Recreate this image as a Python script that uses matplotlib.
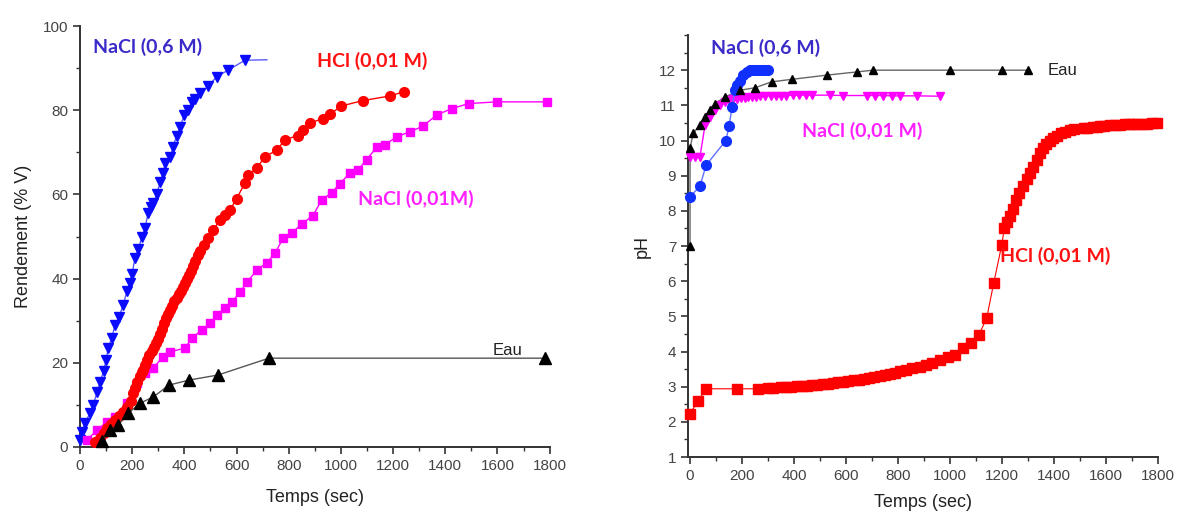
import numpy as np
import matplotlib.pyplot as plt
from matplotlib.ticker import MultipleLocator

# ---------------- left panel : Rendement (% V) vs Temps ----------------
nacl06_x = [0, 8, 19, 38, 51, 65, 77, 90, 100, 108, 122, 134, 150, 165, 180, 190, 199, 211,
            224, 237, 249, 261, 272, 281, 294, 307, 318, 326, 345, 357, 370, 383, 400, 414,
            430, 441, 460, 491, 524, 567, 632, 716]
nacl06_y = [1.6, 3.6, 5.7, 8, 10, 13, 15.4, 18, 20.6, 23.5, 26, 29, 31, 33.7, 37, 39, 41, 45,
            47, 50, 52, 55.6, 57, 58, 60, 63, 65, 67.4, 69, 71.3, 74, 76, 78.9, 80,
            82, 82.8, 84, 85.7, 88, 89.5, 91.9, 92]

hcl_x = [57, 75, 90, 105, 120, 135, 150, 165, 180, 195,
         204, 212, 220, 228, 236, 242, 250, 258, 266, 274,
         282, 290, 298, 306, 314, 322, 330, 338, 346, 354,
         362, 370, 378, 386, 394, 402, 410, 418, 426, 434,
         442, 453, 460, 475, 491, 510, 536, 555, 575, 600,
         632, 645, 678, 709, 754, 785, 835, 854, 881, 931,
         958, 1000, 1084, 1187, 1241]
hcl_y = [1.2, 2.2, 3.3, 4.4, 5.4, 6.4, 7.4, 8.4, 9.5, 11,
         12.8, 14, 15.5, 16.8, 17.8, 18.3, 19.5, 20.6, 21.8, 22.7,
         23.8, 24.6, 25.6, 26.8, 28, 29.4, 30.6, 31.6, 32.6, 33.6,
         34.6, 35.5, 36.4, 37.1, 38, 39, 39.9, 40.8, 41.8, 43,
         44.3, 45.6, 46.5, 48, 49.6, 51.5, 54, 55.2, 56.3, 59,
         62.7, 64.6, 66.3, 69, 70.5, 73, 74, 75.3, 77, 78,
         79, 81, 82.3, 83.4, 84.4]

nacl001_x = [27, 65, 103, 134, 180, 218, 249, 281, 318, 345,
             402, 429, 467, 498, 524, 555, 582, 613, 640, 678,
             716, 747, 778, 811, 850, 893, 926, 965, 996, 1034,
             1065, 1098, 1138, 1168, 1214, 1264, 1314, 1367, 1425, 1490,
             1597, 1789]
nacl001_y = [1.7, 4, 6, 7.2, 10.4, 15.2, 17.6, 18.8, 21.4, 22.6,
             23.5, 25.9, 27.8, 29.4, 31.4, 33, 34.4, 36.8, 39.2, 42,
             43.8, 46, 49.6, 50.8, 53, 55, 58.7, 60.4, 62.6, 65,
             65.8, 68.2, 71.3, 71.8, 73.7, 74.9, 76.2, 78.9, 80.4, 81.6,
             82, 82]

eau_x = [84, 115, 146, 184, 230, 281, 341, 418, 529, 724, 1782]
eau_y = [1.4, 4, 5.2, 8, 10.4, 11.9, 14.7, 15.9, 17.1, 21.1, 21.1]

# ---------------- right panel : pH vs Temps ----------------
ph_eau_x = [0, 0, 12, 38, 58, 77, 96, 135, 192, 250, 315, 392, 527, 642, 704, 1000, 1200, 1300]
ph_eau_y = [7.0, 9.78, 10.2, 10.45, 10.67, 10.86, 11.05, 11.24, 11.43, 11.5, 11.67, 11.74,
            11.86, 11.95, 12.0, 12.0, 12.0, 12.0]

ph_nacl06_x = [0, 38, 62, 138, 150, 162, 173, 181, 192, 204, 219, 231, 242, 254, 265, 277, 288, 300]
ph_nacl06_y = [8.4, 8.7, 9.3, 10.0, 10.4, 10.95, 11.43, 11.57, 11.7, 11.86, 11.95, 12.0,
               12.0, 12.0, 12.0, 12.0, 12.0, 12.0]

ph_nacl001_x = [0, 19, 38, 58, 77, 96, 115, 135, 150, 165,
                180, 195, 210, 225, 240, 255, 270, 290, 310, 330,
                350, 370, 395, 420, 445, 469, 538, 588, 681, 712,
                742, 777, 808, 873, 962]
ph_nacl001_y = [9.53, 9.53, 9.53, 10.45, 10.67, 10.86, 11.0, 11.1, 11.14, 11.17,
                11.19, 11.21, 11.22, 11.23, 11.24, 11.25, 11.26, 11.27, 11.27, 11.28,
                11.28, 11.28, 11.29, 11.29, 11.29, 11.29, 11.29, 11.28, 11.28, 11.28,
                11.28, 11.27, 11.27, 11.27, 11.26]

ph_hcl_x = [0, 31, 62, 181, 262, 300, 319, 350, 370, 390,
            410, 430, 450, 470, 490, 510, 530, 550, 570, 590,
            610, 630, 650, 670, 690, 710, 730, 750, 770, 790,
            808, 830, 855, 885, 908, 931, 962, 992, 1019, 1050,
            1081, 1112, 1142, 1169, 1200, 1210, 1220, 1230, 1242, 1255,
            1268, 1282, 1296, 1310, 1322, 1335, 1348, 1360, 1372, 1385,
            1398, 1412, 1428, 1445, 1462, 1480, 1515, 1530, 1550, 1565,
            1577, 1595, 1615, 1635, 1655, 1675, 1690, 1704, 1720, 1740,
            1760, 1780, 1796]
ph_hcl_y = [2.23, 2.6, 2.94, 2.94, 2.94, 2.95, 2.96, 2.98, 2.99, 3.0,
            3.01, 3.02, 3.03, 3.04, 3.05, 3.07, 3.08, 3.1, 3.12, 3.14,
            3.16, 3.18, 3.2, 3.23, 3.26, 3.28, 3.31, 3.34, 3.37, 3.4,
            3.44, 3.48, 3.52, 3.57, 3.62, 3.68, 3.76, 3.85, 3.9, 4.1,
            4.24, 4.47, 4.95, 5.94, 7.03, 7.51, 7.68, 7.85, 8.05, 8.3,
            8.5, 8.7, 8.9, 9.07, 9.25, 9.45, 9.64, 9.78, 9.9, 9.98,
            10.07, 10.13, 10.2, 10.25, 10.3, 10.33, 10.35, 10.37, 10.38, 10.39,
            10.41, 10.42, 10.43, 10.44, 10.45, 10.46, 10.46, 10.47, 10.47, 10.48,
            10.48, 10.49, 10.49]

plt.rcParams['font.family'] = ['Liberation Sans', 'DejaVu Sans']
label_font = ['Lato', 'Liberation Sans', 'DejaVu Sans']

fig = plt.figure(figsize=(11.77, 5.12), dpi=100)
ax1 = fig.add_axes([0.068, 0.127, 0.399, 0.822])
ax2 = fig.add_axes([0.5845, 0.1074, 0.399, 0.8242])

def style_axes(ax):
    for s in ['top', 'right']:
        ax.spines[s].set_visible(False)
    for s in ['left', 'bottom']:
        ax.spines[s].set_color('#333333')
        ax.spines[s].set_linewidth(1.4)
    ax.tick_params(which='major', direction='out', length=5, width=1.2, colors='#333333',
                   labelsize=11, labelcolor='#444444')
    ax.tick_params(which='minor', direction='out', length=3, width=1.0, colors='#333333')

# left panel
ax1.plot(nacl06_x, nacl06_y, '-', color='#5a5aff', lw=1, zorder=2)
ax1.plot(nacl06_x[:-1], nacl06_y[:-1], 'v', color='#0a0aff', ms=7.5, ls='none', clip_on=False, zorder=3)
ax1.plot(hcl_x, hcl_y, '-o', color='#ff0000', lw=1, ms=7, mec='#ff0000', clip_on=False, zorder=4)
ax1.plot(nacl001_x, nacl001_y, '-s', color='#ff00ff', lw=1, ms=6, clip_on=False, zorder=3)
ax1.plot(eau_x, eau_y, '-', color='#555555', lw=1, zorder=5)
ax1.plot(eau_x, eau_y, '^', color='black', ms=8, ls='none', clip_on=False, zorder=5)

ax1.set_xlim(0, 1800)
ax1.set_ylim(0, 100)
ax1.xaxis.set_major_locator(MultipleLocator(200))
ax1.xaxis.set_minor_locator(MultipleLocator(100))
ax1.yaxis.set_major_locator(MultipleLocator(20))
ax1.yaxis.set_minor_locator(MultipleLocator(10))
style_axes(ax1)
ax1.set_xlabel('Temps (sec)', fontsize=13, color='#222222', labelpad=12)
ax1.set_ylabel('Rendement (% V)', fontsize=13, color='#222222', labelpad=8)

ax1.text(50, 95, 'NaCl (0,6 M)', color='#3a2bc8', fontsize=14, fontweight='bold',
         family=label_font, va='center')
ax1.text(908, 91.7, 'HCl (0,01 M)', color='#ff1010', fontsize=14, fontweight='bold',
         family=label_font, va='center')
ax1.text(1065, 59, 'NaCl (0,01M)', color='#ff20ff', fontsize=14, fontweight='bold',
         family=label_font, va='center')
ax1.text(1582, 23, 'Eau', color='#222222', fontsize=12, va='center')

# right panel
ax2.plot(ph_hcl_x, ph_hcl_y, '-s', color='#ff0000', lw=0.8, ms=7, clip_on=False, zorder=3)
ax2.plot(ph_eau_x, ph_eau_y, '-', color='#666666', lw=1, zorder=4)
ax2.plot(ph_eau_x, ph_eau_y, '^', color='black', ms=6, ls='none', clip_on=False, zorder=5)
ax2.plot(ph_nacl001_x, ph_nacl001_y, '-v', color='#ff00ff', lw=1, ms=6, clip_on=False, zorder=4)
ax2.plot(ph_nacl06_x, ph_nacl06_y, '-', color='#6070ff', lw=1, zorder=4)
ax2.plot(ph_nacl06_x, ph_nacl06_y, 'o', color='#1030ff', ms=7, ls='none', clip_on=False, zorder=4)

ax2.set_xlim(-8, 1800)
ax2.set_ylim(1, 13)
ax2.xaxis.set_major_locator(MultipleLocator(200))
ax2.xaxis.set_minor_locator(MultipleLocator(100))
ax2.set_yticks(np.arange(1, 13))
ax2.yaxis.set_minor_locator(MultipleLocator(0.5))
style_axes(ax2)
ax2.set_xlabel('Temps (sec)', fontsize=13, color='#222222', labelpad=8)
ax2.set_ylabel('pH', fontsize=13, color='#222222', labelpad=6)

ax2.text(81, 12.63, 'NaCl (0,6 M)', color='#3a2bc8', fontsize=14, fontweight='bold',
         family=label_font, va='center')
ax2.text(1377, 12.0, 'Eau', color='#222222', fontsize=12, va='center')
ax2.text(431, 10.27, 'NaCl (0,01 M)', color='#ff20ff', fontsize=14, fontweight='bold',
         family=label_font, va='center')
ax2.text(1192, 6.72, 'HCl (0,01 M)', color='#ff1010', fontsize=14, fontweight='bold',
         family=label_font, va='center')

fig.savefig('out.png', dpi=100)
